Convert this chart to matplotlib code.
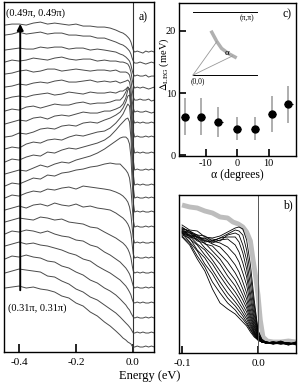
import numpy as np
import matplotlib
matplotlib.use('Agg')
import matplotlib.pyplot as plt
from matplotlib.ticker import FormatStrFormatter

plt.rcParams['font.family'] = ['Liberation Serif', 'DejaVu Serif']
plt.rcParams['mathtext.fontset'] = 'stix'
plt.rcParams['axes.unicode_minus'] = False
plt.rcParams['axes.linewidth'] = 1.0

# ---- panel a: EDCs along the nodal cut, (0.49pi,0.49pi) at top -> (0.31pi,0.31pi) at bottom
energy_a = [-0.45, -0.425, -0.40, -0.375, -0.35, -0.325, -0.30, -0.275, -0.25, -0.225,
            -0.20, -0.175, -0.15, -0.125, -0.10,
            -0.08, -0.06, -0.045, -0.035, -0.025, -0.018, -0.012, -0.007, -0.003, 0.001,
            0.006, 0.015, 0.025, 0.035, 0.045, 0.055, 0.065, 0.075]

# vertical offset of each spectrum (top first)
offsets_a = [300, 289, 276, 264, 252, 240, 229, 215, 199, 182, 167,
             154, 140, 125, 109, 94, 79, 64, 49, 34, 19, 5]

edc = [
    [27, 28, 28, 27, 29, 30, 28, 29, 28, 27, 28, 26, 26, 25, 25,
     24, 22, 20, 19, 17, 15, 13, 10, 6, 2, 0, 1, 0, -1, 1, 0, 1, 0],
    [28, 29, 31, 29, 30, 31, 29, 30, 30, 28, 28, 27, 27, 25, 25,
     23, 21, 19, 18, 16, 14, 12, 9, 5, 2, 0, 0, 1, 0, -1, 0, 1, 0],
    [26, 27, 28, 27, 27, 29, 28, 29, 29, 27, 28, 28, 26, 27, 26,
     25, 24, 22, 21, 19, 17, 15, 11, 6, 2, 0, 1, 0, 0, 1, -1, 0, 0],
    [26, 28, 27, 28, 30, 29, 28, 30, 31, 29, 28, 29, 29, 27, 28,
     27, 27, 26, 26, 25, 24, 21, 16, 9, 3, 0, 1, 0, 1, 0, -1, 0, 1],
    [26, 27, 29, 30, 28, 29, 31, 31, 29, 30, 31, 30, 29, 30, 30,
     29, 30, 28, 28, 28, 27, 25, 19, 11, 3, 0, 0, 1, 0, 0, 1, -1, 0],
    [25, 26, 28, 27, 29, 30, 29, 31, 32, 30, 30, 31, 32, 30, 31,
     30, 31, 29, 30, 31, 32, 30, 22, 12, 4, 0, 1, 0, 0, 1, 0, -1, 0],
    [24, 26, 27, 26, 28, 29, 30, 28, 29, 31, 30, 29, 31, 30, 30,
     31, 30, 32, 32, 34, 36, 34, 25, 14, 4, 0, 1, 0, 1, 0, 0, 1, 0],
    [26, 28, 27, 30, 31, 29, 31, 33, 32, 32, 34, 35, 33, 34, 34,
     35, 37, 37, 40, 45, 50, 48, 36, 20, 6, 0, 1, 0, 0, 1, 0, 1, 0],
    [29, 31, 33, 32, 35, 36, 34, 37, 38, 37, 39, 41, 40, 40, 42,
     42, 44, 46, 49, 55, 63, 64, 50, 28, 8, 0, 1, 0, 1, 0, 0, 1, 0],
    [33, 34, 37, 36, 38, 41, 42, 41, 44, 45, 44, 47, 48, 47, 50,
     52, 55, 58, 62, 68, 74, 75, 60, 34, 10, 0, 1, 0, 0, 1, 0, 1, 0],
    [36, 38, 37, 41, 43, 42, 45, 46, 45, 48, 50, 49, 51, 53, 54,
     57, 62, 67, 71, 77, 81, 79, 62, 36, 11, 0, 1, 0, 1, 0, 0, 1, 0],
    [36, 39, 38, 41, 43, 42, 46, 45, 48, 50, 49, 51, 53, 55, 58,
     62, 68, 73, 76, 79, 80, 76, 60, 35, 11, 0, 1, 0, 0, 1, 0, 1, 0],
    [38, 40, 42, 41, 44, 47, 45, 48, 50, 49, 52, 54, 56, 59, 63,
     67, 71, 74, 75, 75, 73, 68, 55, 32, 10, 0, 1, 0, 1, 0, 0, 1, 0],
    [41, 44, 43, 46, 49, 48, 52, 51, 54, 55, 57, 58, 60, 61, 63,
     64, 63, 63, 60, 57, 54, 49, 38, 22, 7, 0, 1, 0, 0, 1, 0, 1, 0],
    [45, 48, 47, 50, 52, 51, 54, 53, 55, 56, 54, 57, 56, 55, 54,
     53, 51, 49, 47, 44, 41, 36, 28, 16, 5, 0, 1, 0, 1, 0, 0, 1, 0],
    [48, 50, 52, 50, 53, 54, 52, 55, 53, 52, 54, 51, 52, 50, 49,
     48, 45, 42, 40, 37, 34, 30, 24, 14, 4, 0, 1, 0, 0, 1, 0, 1, 0],
    [51, 53, 55, 54, 53, 56, 55, 53, 54, 51, 50, 49, 46, 45, 41,
     38, 35, 32, 30, 27, 24, 20, 15, 8, 2, 0, 1, 0, 1, 0, 0, 1, 0],
    [54, 57, 56, 58, 57, 55, 57, 54, 52, 51, 48, 47, 43, 41, 36,
     33, 29, 26, 23, 20, 17, 14, 10, 6, 2, 0, 1, 0, 0, 1, 0, 1, 0],
    [57, 59, 61, 59, 60, 58, 57, 55, 53, 50, 48, 44, 42, 37, 33,
     30, 26, 23, 20, 17, 14, 11, 8, 4, 1, 0, 1, 0, 1, 0, 0, 1, 0],
    [59, 62, 61, 63, 61, 60, 57, 56, 52, 50, 46, 43, 38, 35, 30,
     27, 23, 19, 16, 13, 10, 8, 5, 3, 1, 0, 1, 0, 0, 1, 0, 1, 0],
    [60, 62, 64, 63, 62, 61, 57, 56, 52, 49, 44, 41, 36, 33, 28,
     24, 20, 16, 13, 10, 8, 6, 4, 2, 0, 0, 1, 0, 1, 0, 0, 1, 0],
    [59, 60, 61, 59, 60, 58, 57, 55, 51, 49, 44, 41, 35, 31, 25,
     21, 16, 12, 9, 7, 5, 4, 3, 1, 0, 0, 1, 0, 0, 1, 0, 1, 0],
]

# ---- panel b: normalised EDCs near E_F (black) and reference edge (grey)
energy_b = [-0.1, -0.09, -0.08, -0.07, -0.06, -0.05, -0.04, -0.03, -0.025, -0.02,
            -0.015, -0.01, -0.005, 0.0, 0.005, 0.01, 0.02, 0.03, 0.04, 0.05]
edc_b = [
    [120, 115, 114, 108, 107, 109, 113, 117, 118, 116, 105, 80, 45, 15, 5, 3, 2, 4, 1, 2],
    [117, 114, 110, 109, 104, 107, 111, 115, 114, 110, 95, 70, 40, 14, 6, 3, 2, 2, 1, 3],
    [116, 114, 108, 106, 106, 104, 110, 112, 110, 100, 85, 60, 35, 12, 4, 3, 1, 3, 2, 1],
    [118, 112, 110, 104, 104, 107, 108, 108, 103, 92, 76, 52, 30, 11, 4, 2, 3, 2, 0, 2],
    [114, 113, 107, 107, 102, 105, 106, 100, 93, 82, 68, 46, 26, 10, 5, 3, 2, 1, 2, 1],
    [116, 110, 109, 103, 104, 102, 98, 90, 83, 72, 60, 40, 23, 9, 4, 2, 2, 3, 1, 2],
    [113, 112, 105, 105, 101, 98, 90, 80, 73, 63, 52, 35, 20, 8, 4, 2, 3, 1, 2, 1],
    [115, 109, 108, 101, 99, 91, 83, 72, 65, 56, 46, 31, 18, 8, 3, 3, 2, 2, 1, 3],
    [112, 110, 104, 102, 94, 86, 75, 65, 58, 50, 41, 28, 16, 7, 3, 3, 1, 3, 2, 1],
    [114, 108, 106, 97, 90, 81, 69, 59, 52, 45, 37, 25, 14, 7, 3, 2, 3, 2, 0, 2],
    [111, 109, 101, 95, 85, 74, 63, 53, 47, 40, 33, 22, 13, 6, 4, 3, 2, 1, 2, 1],
    [113, 106, 100, 90, 81, 69, 58, 48, 42, 36, 29, 20, 12, 6, 3, 2, 3, 2, 1, 2],
    [110, 107, 95, 87, 75, 63, 52, 43, 38, 32, 26, 18, 11, 5, 3, 3, 2, 3, 2, 0],
    [112, 103, 94, 81, 71, 58, 47, 39, 34, 29, 23, 16, 10, 5, 3, 2, 1, 2, 1, 2],
    [109, 102, 89, 78, 63, 52, 42, 35, 30, 26, 21, 15, 9, 5, 3, 3, 2, 3, 2, 1],
    [108, 100, 86, 74, 56, 42, 36, 31, 27, 23, 19, 13, 8, 5, 3, 2, 3, 2, 1, 2],
]
energy_ref = [-0.1, -0.09, -0.08, -0.07, -0.06, -0.05, -0.04, -0.033, -0.026, -0.02,
              -0.015, -0.01, -0.0065, -0.003, 0.0, 0.003, 0.0065, 0.012, 0.02, 0.03,
              0.04, 0.05]
ref_b = [140, 138, 137, 134, 132, 128, 127, 123, 121, 118, 113, 104, 85, 68, 50, 25,
         8, 4, 3, 3, 4, 3]

# ---- panel c: gap vs angle
alpha = [-16.5, -11.5, -5.9, -0.1, 5.7, 11.0, 16.3]
alpha_err = [1.3, 1.3, 1.3, 1.3, 1.3, 1.3, 1.3]
gap = [6.2, 6.2, 5.4, 4.3, 4.3, 6.7, 8.2]
gap_err = [3.0, 3.0, 2.4, 1.9, 1.9, 2.9, 3.0]

fig = plt.figure(figsize=(2.99, 3.91), dpi=100)
ax_a = fig.add_axes([0.0134, 0.0997, 0.5017, 0.895])
ax_c = fig.add_axes([0.5987, 0.601, 0.3913, 0.3913])
ax_b = fig.add_axes([0.5987, 0.0972, 0.3913, 0.4041])

# panel a
for off, h in zip(offsets_a, edc):
    ax_a.plot(energy_a, np.array(h) + off, color='#4a4a4a', lw=0.7)
ax_a.axvline(0.0, color='#333333', lw=0.8)
ax_a.annotate('', xy=(-0.396, 331), xytext=(-0.396, 59),
              arrowprops=dict(arrowstyle='-|>', lw=1.4, color='k', mutation_scale=9))
ax_a.text(-0.446, 339, '(0.49π, 0.49π)', fontsize=7.5, va='center', ha='left')
ax_a.text(-0.439, 44, '(0.31π, 0.31π)', fontsize=7.5, va='center', ha='left')
ax_a.text(0.96, 0.975, 'a)', transform=ax_a.transAxes, fontsize=8.5, ha='right', va='top')
ax_a.set_xlim(-0.453, 0.074)
ax_a.set_ylim(0, 350)
ax_a.set_yticks([])
ax_a.set_xticks([-0.4, -0.2, 0.0])
ax_a.xaxis.set_major_formatter(FormatStrFormatter('%.1f'))
ax_a.tick_params(axis='x', direction='in', length=6, width=1.2, labelsize=8, pad=4)

# panel b
ax_b.plot(energy_ref, ref_b, color='#bdbdbd', lw=3.5, solid_capstyle='butt')
for h in edc_b:
    ax_b.plot(energy_b, h, color='k', lw=0.6)
ax_b.axvline(0.0, color='#555555', lw=0.7)
ax_b.text(0.97, 0.975, 'b)', transform=ax_b.transAxes, fontsize=8.5, ha='right', va='top')
ax_b.set_xlim(-0.104, 0.05)
ax_b.set_ylim(-8, 150)
ax_b.set_yticks([])
ax_b.set_xticks([-0.1, 0.0])
ax_b.xaxis.set_major_formatter(FormatStrFormatter('%.1f'))
ax_b.tick_params(axis='x', direction='in', length=5, width=1.2, labelsize=8, pad=4)

# panel c
ax_c.errorbar(alpha, gap, yerr=gap_err, fmt='none', ecolor='#a8a8a8', elinewidth=1.3, capsize=0)
ax_c.errorbar(alpha, gap, xerr=alpha_err, fmt='o', color='k', ms=5,
              ecolor='k', elinewidth=0.8, capsize=0)
# inset sketch of the Brillouin zone
ax_c.plot([-14, 6.3], [23.1, 23.1], color='k', lw=0.7)
ax_c.plot([-14, 6.3], [12.9, 12.9], color='k', lw=0.7)
ax_c.plot([-8.0, -6.4, -4.9, -2.8, -0.6], [19.8, 18.3, 17.2, 16.4, 15.8],
          color='#b0b0b0', lw=2.5)
ax_c.plot([-14, -6.4], [12.9, 18.3], color='#999999', lw=0.6)
ax_c.plot([-14, -1.4], [12.9, 16.0], color='#999999', lw=0.6)
ax_c.text(-3.2, 16.4, 'α', fontsize=6.5, ha='center', va='center')
ax_c.text(3.1, 22.0, '(π,π)', fontsize=5.5, ha='center', va='center')
ax_c.text(-12.4, 11.9, '(0,0)', fontsize=5.5, ha='center', va='center')
ax_c.text(0.96, 0.965, 'c)', transform=ax_c.transAxes, fontsize=8.5, ha='right', va='top')
ax_c.set_xlim(-18.4, 18.7)
ax_c.set_ylim(-0.1, 24.5)
ax_c.set_xticks([-10, 0, 10])
ax_c.set_yticks([0, 10, 20])
ax_c.tick_params(direction='in', length=5, width=1.2, labelsize=7.5, pad=2)
ax_c.set_xlabel('α (degrees)', fontsize=8.5, labelpad=1)
ax_c.set_ylabel(r'$\Delta_{\rm LEG}$ (meV)', fontsize=7.5)
ax_c.yaxis.set_label_coords(-0.07, 0.6)

fig.text(0.5, 0.03, 'Energy (eV)', ha='center', fontsize=9)

fig.savefig('out.png', dpi=100)
